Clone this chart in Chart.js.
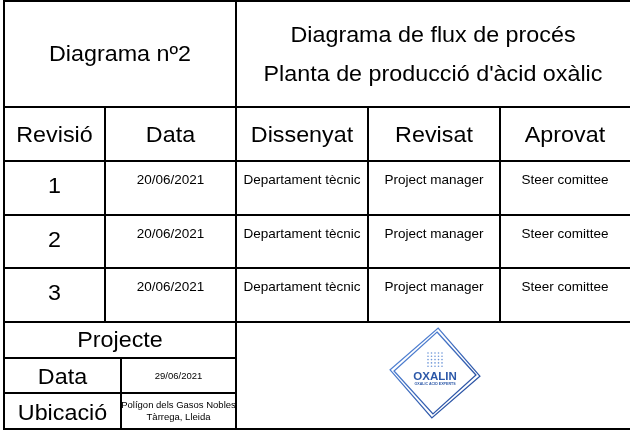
<!DOCTYPE html>
<html>
<head>
<meta charset="utf-8">
<script src="https://cdn.jsdelivr.net/npm/chart.js@4"></script>
<style>
  html, body { margin: 0; padding: 0; background: #fff; }
  canvas { display: block; }
</style>
</head>
<body>
<canvas id="canvas" width="630" height="430"></canvas>
<script>
// Sheet contents
const titleLeft = "Diagrama nº2";
const titleRight = ["Diagrama de flux de procés", "Planta de producció d'àcid oxàlic"];
const headers = ["Revisió", "Data", "Dissenyat", "Revisat", "Aprovat"];
const revisions = ["1", "2", "3"];
const revisionDates = ["20/06/2021", "20/06/2021", "20/06/2021"];
const designedBy = ["Departament tècnic", "Departament tècnic", "Departament tècnic"];
const reviewedBy = ["Project manager", "Project manager", "Project manager"];
const approvedBy = ["Steer comittee", "Steer comittee", "Steer comittee"];
const projectLabel = "Projecte";
const projectFields = ["Data", "Ubicació"];
const projectValues = [["29/06/2021"], ["Polígon dels Gasos Nobles", "Tàrrega, Lleida"]];
const logoName = "OXALIN";
const logoTagline = "OXALIC ACID EXPERTS";

// Table geometry (sheet units = pixels of the 630x430 page)
const colEdges = [4, 105, 236, 368, 500, 630];
const rowEdges = [1, 107, 161, 215, 268, 322];
const footEdges = [322, 358, 393, 429];
const footSplit = 121;
const logoCenter = { x: 435, y: 373 };

const FONT = '"Liberation Sans", Arial, sans-serif';
const BIG = 22;
const BIG_STRETCH = 1.06;
const SMALL = 13.5;

function segment(x0, y0, x1, y1) {
  return {
    data: [{ x: x0, y: y0 }, { x: x1, y: y1 }],
    showLine: true,
    borderColor: "#000",
    borderWidth: 2,
    borderCapStyle: "square",
    pointRadius: 0,
    clip: false
  };
}

let lines = [];
const right = colEdges[colEdges.length - 1];
const bottom = footEdges[footEdges.length - 1];
// horizontal rules
rowEdges.forEach(y => lines.push(segment(colEdges[0], y, right, y)));
footEdges.slice(1, -1).forEach(y => lines.push(segment(colEdges[0], y, colEdges[2], y)));
lines.push(segment(colEdges[0], bottom, right, bottom));
// vertical rules
lines.push(segment(colEdges[0], rowEdges[0], colEdges[0], bottom));
lines.push(segment(colEdges[2], rowEdges[0], colEdges[2], bottom));
[colEdges[1], colEdges[3], colEdges[4]].forEach(x => lines.push(segment(x, rowEdges[1], x, rowEdges[5])));
lines.push(segment(footSplit, footEdges[1], footSplit, bottom));

// text placed at the cap-height middle of (x, y)
function label(ctx, chart, str, x, y, size, stretch = 1) {
  const px = chart.scales.x.getPixelForValue(x);
  const py = chart.scales.y.getPixelForValue(y) + size * 0.358;
  ctx.save();
  ctx.font = size + "px " + FONT;
  ctx.fillStyle = "#000";
  ctx.textAlign = "center";
  ctx.textBaseline = "alphabetic";
  ctx.translate(px, py);
  ctx.scale(stretch, 1);
  ctx.fillText(str, 0, 0);
  ctx.restore();
}

const textPlugin = {
  id: "sheetText",
  afterDatasetsDraw(chart) {
    const ctx = chart.ctx;
    const mid = (a, b) => (a + b) / 2;
    const big = (str, x, y) => label(ctx, chart, str, x, y, BIG, BIG_STRETCH);

    // title block
    big(titleLeft, mid(colEdges[0], colEdges[2]), 53);
    big(titleRight[0], mid(colEdges[2], right), 34);
    big(titleRight[1], mid(colEdges[2], right), 73);

    // header row
    headers.forEach((h, i) => {
      big(h, mid(colEdges[i], colEdges[i + 1]), mid(rowEdges[1], rowEdges[2]));
    });

    // revision rows
    const cols = [revisionDates, designedBy, reviewedBy, approvedBy];
    revisions.forEach((rev, r) => {
      const top = rowEdges[r + 2];
      big(rev, mid(colEdges[0], colEdges[1]), top + 24);
      cols.forEach((col, c) => {
        label(ctx, chart, col[r], mid(colEdges[c + 1], colEdges[c + 2]), top + 18.5, SMALL);
      });
    });

    // project block
    big(projectLabel, mid(colEdges[0], colEdges[2]), mid(footEdges[0], footEdges[1]) - 1);
    projectFields.forEach((f, i) => {
      const y = mid(footEdges[i + 1], footEdges[i + 2]);
      big(f, mid(colEdges[0], footSplit), y + 1);
      const vals = projectValues[i];
      vals.forEach((v, k) => {
        label(ctx, chart, v, mid(footSplit, colEdges[2]), y + (k - (vals.length - 1) / 2) * 12, 9.5);
      });
    });
  }
};

// company mark in the lower right block
const logoPlugin = {
  id: "logo",
  afterDatasetsDraw(chart) {
    const ctx = chart.ctx;
    const cx = chart.scales.x.getPixelForValue(logoCenter.x);
    const cy = chart.scales.y.getPixelForValue(logoCenter.y);
    ctx.save();
    ctx.translate(cx, cy);

    const grad = ctx.createLinearGradient(-40, -40, 40, 40);
    grad.addColorStop(0, "#5b8ee0");
    grad.addColorStop(1, "#1f4596");
    ctx.strokeStyle = grad;
    ctx.lineWidth = 1.3;
    [[45, 0.07], [41, 0.05]].forEach(([r, rot]) => {
      ctx.beginPath();
      for (let k = 0; k < 4; k++) {
        const a = -Math.PI / 2 + rot + k * Math.PI / 2;
        const px = r * Math.cos(a), py = r * Math.sin(a);
        if (k == 0) ctx.moveTo(px, py); else ctx.lineTo(px, py);
      }
      ctx.closePath();
      ctx.stroke();
    });

    // molecule grid
    ctx.fillStyle = "#6f97d8";
    for (let i = 0; i < 5; i++) {
      for (let j = 0; j < 5; j++) {
        ctx.beginPath();
        ctx.arc(-7 + i * 3.5, -20 + j * 3.3, 0.8, 0, Math.PI * 2);
        ctx.fill();
      }
    }

    ctx.fillStyle = "#2c58a8";
    ctx.textAlign = "center";
    ctx.textBaseline = "alphabetic";
    ctx.font = "bold 11.5px " + FONT;
    ctx.fillText(logoName, 0, 7);
    ctx.font = "bold 3.6px " + FONT;
    ctx.fillText(logoTagline, 0, 12);
    ctx.restore();
  }
};

new Chart(document.getElementById("canvas"), {
  type: "scatter",
  data: { datasets: lines },
  options: {
    responsive: false,
    animation: false,
    devicePixelRatio: 1,
    layout: { padding: 0 },
    plugins: { legend: { display: false }, tooltip: { enabled: false } },
    scales: {
      x: { type: "linear", min: 0, max: 630, display: false },
      y: { type: "linear", min: 0, max: 430, reverse: true, display: false }
    }
  },
  plugins: [textPlugin, logoPlugin]
});
</script>
</body>
</html>
